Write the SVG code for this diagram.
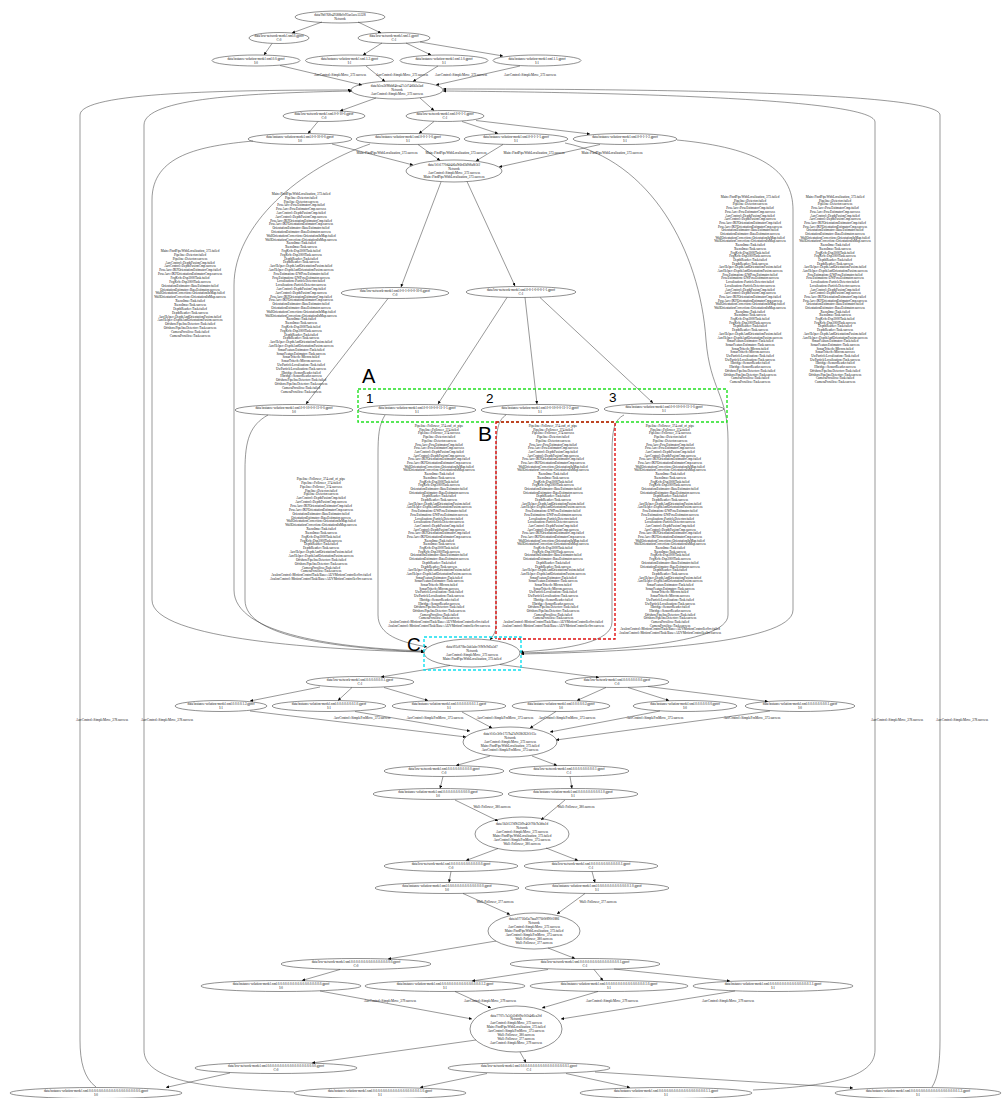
<svg xmlns="http://www.w3.org/2000/svg" width="1002" height="1098" viewBox="0 0 1002 1098">
<defs>
<marker id="ah" viewBox="0 0 10 10" refX="10" refY="5" markerWidth="3.6" markerHeight="3" markerUnits="userSpaceOnUse" orient="auto"><path d="M0,0 L10,5 L0,10 z" fill="#000"/></marker>
<style>
text{font-family:"Liberation Serif","Times New Roman",serif;font-size:3.3px;text-anchor:middle;fill:#111}
.nd ellipse{fill:none;stroke:#222;stroke-width:0.5}
#edges path{fill:none;stroke:#333;stroke-width:0.5;marker-end:url(#ah)}
.big{font-family:"Liberation Sans",Arial,sans-serif;text-anchor:start;fill:#000;font-size:20px}
.num{font-family:"Liberation Sans",Arial,sans-serif;text-anchor:start;fill:#000;font-size:13.5px}
.box{fill:none;stroke-width:1.4;stroke-dasharray:3 2}
</style>
</defs>
<rect width="1002" height="1098" fill="#fff"/>

<!-- connectors -->
<g id="edges">
<path d="M322,22 L292,33"/>
<path d="M358,22 L381,33"/>
<path d="M272,43.5 L264,55"/>
<path d="M382,43 L363,55"/>
<path d="M406,43 L431,55"/>
<path d="M420,42 L503,56"/>
<path d="M280,65.5 L362,85"/>
<path d="M366,66 L385,81.5"/>
<path d="M438,66 L413,81.5"/>
<path d="M520,66 L436,85"/>
<path d="M376,98 L340,111"/>
<path d="M420,98 L434,110.5"/>
<path d="M318,121.5 L308,133.5"/>
<path d="M434,121.5 L419,133.5"/>
<path d="M462,121.5 L498,133.5"/>
<path d="M476,120.5 L590,134"/>
<path d="M332,144 L413,165"/>
<path d="M418,144.5 L440,160.5"/>
<path d="M503,144.5 L476,161"/>
<path d="M600,144.5 L499,167"/>
<path d="M441,182 L401,287"/>
<path d="M467,181.5 L515,286"/>
<path d="M388,298.5 L306,404"/>
<path d="M507,297.5 L438,404"/>
<path d="M525,297.5 L537,404"/>
<path d="M540,297.5 L653,403"/>
<path d="M253,141 C200,146 152,155 152,200 L152,600 C152,640 330,650 424,652"/>
<path d="M370,144 C300,168 234,225 234,285 L234,590 C234,635 340,648 424,651"/>
<path d="M565,143 C650,160 700,250 706,340 C710,390 728,395 728,440 L728,615 C728,645 600,651 521,653"/>
<path d="M677,140 C760,148 793,170 793,210 L793,610 C793,645 620,652 521,654"/>
<path d="M96,1087 C84,1078 80,1062 80,1040 L80,115 C80,92 230,90 351,90"/>
<path d="M294,1092 C200,1088 144,1080 144,1050 L144,125 C144,98 250,93 352,91"/>
<path d="M753,1090 C830,1086 875,1078 875,1050 L875,122 C875,96 560,92 443,91"/>
<path d="M932,1087 C938,1078 940,1062 940,1040 L940,115 C940,91 620,89 443,89"/>
<path d="M268,415 C250,425 245,440 245,470 L245,600 C245,638 340,648 424,652"/>
<path d="M385,415 C379,425 378,435 378,455 L378,615 C378,635 400,642 427,647"/>
<path d="M506,415 C498,420 496,430 496,455 L496,625 C496,632 493,636 490,640"/>
<path d="M624,415 C614,420 612,430 612,455 L612,622 C612,642 570,649 520,652"/>
<path d="M450,665.5 L381,677"/>
<path d="M500,664.5 L599,677.5"/>
<path d="M320,687 L250,701"/>
<path d="M352,687.5 L338,700.5"/>
<path d="M384,687.5 L428,700.5"/>
<path d="M606,687.5 L577,700.5"/>
<path d="M628,687.5 L669,700.5"/>
<path d="M648,686.5 L768,701.5"/>
<path d="M250,711 L466,737"/>
<path d="M355,711.5 L470,731"/>
<path d="M462,712 L492,728"/>
<path d="M556,711.5 L530,728"/>
<path d="M660,711 L550,732"/>
<path d="M770,711 L556,740"/>
<path d="M490,756 L456,765.5"/>
<path d="M532,756 L557,765.5"/>
<path d="M443,776.5 L440,788.5"/>
<path d="M570,776.5 L572,788.5"/>
<path d="M455,800 L498,821"/>
<path d="M565,800 L541,820"/>
<path d="M498,848.5 L466,860.5"/>
<path d="M546,848 L578,860.5"/>
<path d="M451,871.5 L449,882.5"/>
<path d="M592,871.5 L595,882.5"/>
<path d="M463,893.5 L510,914.5"/>
<path d="M585,893.5 L557,914"/>
<path d="M496,941 L388,959"/>
<path d="M548,948 L575,958.5"/>
<path d="M340,969.5 L302,980.5"/>
<path d="M548,969.5 L472,981"/>
<path d="M594,969.5 L603,980.5"/>
<path d="M614,969 L730,981"/>
<path d="M320,991 L472,1019"/>
<path d="M455,991.5 L491,1008"/>
<path d="M598,991.5 L542,1008"/>
<path d="M735,991 L561,1019"/>
<path d="M476,1040 L312,1063"/>
<path d="M520,1052 L526,1062.5"/>
<path d="M230,1073 L166,1087.5"/>
<path d="M487,1073.5 L420,1087.5"/>
<path d="M566,1073.5 L630,1087.5"/>
<path d="M595,1072 L853,1088"/>
</g>

<!-- short edge labels -->
<g id="edge-labels">
<text x="340" y="76">AuvControl::SimpleMove_372.success</text>
<text x="402" y="76">AuvControl::SimpleMove_372.success</text>
<text x="461" y="76">AuvControl::SimpleMove_372.success</text>
<text x="530" y="76">AuvControl::SimpleMove_372.success</text>
<text x="387" y="154">Main::FindPipeWithLocalization_373.success</text>
<text x="456" y="154">Main::FindPipeWithLocalization_373.success</text>
<text x="534" y="154">Main::FindPipeWithLocalization_373.success</text>
<text x="612" y="154">Main::FindPipeWithLocalization_373.success</text>
<text x="362" y="719">AuvControl::SimplePosMove_373.success</text>
<text x="435" y="719">AuvControl::SimplePosMove_373.success</text>
<text x="505" y="719">AuvControl::SimplePosMove_373.success</text>
<text x="567" y="719">AuvControl::SimplePosMove_373.success</text>
<text x="655" y="719">AuvControl::SimplePosMove_373.success</text>
<text x="752" y="719">AuvControl::SimplePosMove_373.success</text>
<text x="492" y="808">Wall::Follower_380.success</text>
<text x="576" y="808">Wall::Follower_380.success</text>
<text x="495" y="903">Wall::Follower_377.success</text>
<text x="598" y="903">Wall::Follower_377.success</text>
<text x="390" y="1002">AuvControl::SimpleMove_379.success</text>
<text x="490" y="1002">AuvControl::SimpleMove_379.success</text>
<text x="612" y="1002">AuvControl::SimpleMove_379.success</text>
<text x="728" y="1002">AuvControl::SimpleMove_379.success</text>
<text x="102" y="721">AuvControl::SimpleMove_378.success</text>
<text x="167" y="721">AuvControl::SimpleMove_378.success</text>
<text x="897" y="721">AuvControl::SimpleMove_378.success</text>
<text x="962" y="721">AuvControl::SimpleMove_378.success</text>
</g>

<!-- failure label blocks of the FindPipeWithLocalization edges -->
<g id="block-f1"><text x="190" y="252"><tspan x="190">Main::FindPipeWithLocalization_373.failed</tspan><tspan x="190" dy="3.86">Pipeline::Detector.failed</tspan><tspan x="190" dy="3.86">Pipeline::Detector.success</tspan><tspan x="190" dy="3.86">AuvControl::DepthFusionCmp.failed</tspan><tspan x="190" dy="3.86">AuvControl::DepthFusionCmp.success</tspan><tspan x="190" dy="3.86">PoseAuv::IKFOrientationEstimatorCmp.failed</tspan><tspan x="190" dy="3.86">PoseAuv::IKFOrientationEstimatorCmp.success</tspan><tspan x="190" dy="3.86">FogKvh::Dsp3000Task.failed</tspan><tspan x="190" dy="3.86">FogKvh::Dsp3000Task.success</tspan><tspan x="190" dy="3.86">OrientationEstimator::BaseEstimator.failed</tspan><tspan x="190" dy="3.86">OrientationEstimator::BaseEstimator.success</tspan><tspan x="190" dy="3.86">WallOrientationCorrection::OrientationInMap.failed</tspan><tspan x="190" dy="3.86">WallOrientationCorrection::OrientationInMap.success</tspan><tspan x="190" dy="3.86">XsensImu::Task.failed</tspan><tspan x="190" dy="3.86">XsensImu::Task.success</tspan><tspan x="190" dy="3.86">DepthReader::Task.failed</tspan><tspan x="190" dy="3.86">DepthReader::Task.success</tspan><tspan x="190" dy="3.86">AuvHelper::DepthAndOrientationFusion.failed</tspan><tspan x="190" dy="3.86">AuvHelper::DepthAndOrientationFusion.success</tspan><tspan x="190" dy="3.86">OffshorePipelineDetector::Task.failed</tspan><tspan x="190" dy="3.86">OffshorePipelineDetector::Task.success</tspan><tspan x="190" dy="3.86">CameraProsilica::Task.failed</tspan><tspan x="190" dy="3.86">CameraProsilica::Task.success</tspan></text></g>

<g id="block-f2"><text x="301" y="195"><tspan x="301">Main::FindPipeWithLocalization_373.failed</tspan><tspan x="301" dy="3.8">Pipeline::Detector.failed</tspan><tspan x="301" dy="3.8">Pipeline::Detector.success</tspan><tspan x="301" dy="3.8">PoseAuv::PoseEstimatorCmp.failed</tspan><tspan x="301" dy="3.8">PoseAuv::PoseEstimatorCmp.success</tspan><tspan x="301" dy="3.8">AuvControl::DepthFusionCmp.failed</tspan><tspan x="301" dy="3.8">AuvControl::DepthFusionCmp.success</tspan><tspan x="301" dy="3.8">PoseAuv::IKFOrientationEstimatorCmp.failed</tspan><tspan x="301" dy="3.8">PoseAuv::IKFOrientationEstimatorCmp.success</tspan><tspan x="301" dy="3.8">OrientationEstimator::BaseEstimator.failed</tspan><tspan x="301" dy="3.8">OrientationEstimator::BaseEstimator.success</tspan><tspan x="301" dy="3.8">WallOrientationCorrection::OrientationInMap.failed</tspan><tspan x="301" dy="3.8">WallOrientationCorrection::OrientationInMap.success</tspan><tspan x="301" dy="3.8">XsensImu::Task.failed</tspan><tspan x="301" dy="3.8">XsensImu::Task.success</tspan><tspan x="301" dy="3.8">FogKvh::Dsp3000Task.failed</tspan><tspan x="301" dy="3.8">FogKvh::Dsp3000Task.success</tspan><tspan x="301" dy="3.8">DepthReader::Task.failed</tspan><tspan x="301" dy="3.8">DepthReader::Task.success</tspan><tspan x="301" dy="3.8">AuvHelper::DepthAndOrientationFusion.failed</tspan><tspan x="301" dy="3.8">AuvHelper::DepthAndOrientationFusion.success</tspan><tspan x="301" dy="3.8">PoseEstimation::UWPoseEstimator.failed</tspan><tspan x="301" dy="3.8">PoseEstimation::UWPoseEstimator.success</tspan><tspan x="301" dy="3.8">Localization::ParticleDetector.failed</tspan><tspan x="301" dy="3.8">Localization::ParticleDetector.success</tspan><tspan x="301" dy="3.8">AuvControl::DepthFusionCmp.failed</tspan><tspan x="301" dy="3.8">AuvControl::DepthFusionCmp.success</tspan><tspan x="301" dy="3.8">PoseAuv::IKFOrientationEstimatorCmp.failed</tspan><tspan x="301" dy="3.8">PoseAuv::IKFOrientationEstimatorCmp.success</tspan><tspan x="301" dy="3.8">OrientationEstimator::BaseEstimator.failed</tspan><tspan x="301" dy="3.8">OrientationEstimator::BaseEstimator.success</tspan><tspan x="301" dy="3.8">WallOrientationCorrection::OrientationInMap.failed</tspan><tspan x="301" dy="3.8">WallOrientationCorrection::OrientationInMap.success</tspan><tspan x="301" dy="3.8">XsensImu::Task.failed</tspan><tspan x="301" dy="3.8">XsensImu::Task.success</tspan><tspan x="301" dy="3.8">FogKvh::Dsp3000Task.failed</tspan><tspan x="301" dy="3.8">FogKvh::Dsp3000Task.success</tspan><tspan x="301" dy="3.8">DepthReader::Task.failed</tspan><tspan x="301" dy="3.8">DepthReader::Task.success</tspan><tspan x="301" dy="3.8">AuvHelper::DepthAndOrientationFusion.failed</tspan><tspan x="301" dy="3.8">AuvHelper::DepthAndOrientationFusion.success</tspan><tspan x="301" dy="3.8">SonarFeatureEstimator::Task.failed</tspan><tspan x="301" dy="3.8">SonarFeatureEstimator::Task.success</tspan><tspan x="301" dy="3.8">SonarTritech::Micron.failed</tspan><tspan x="301" dy="3.8">SonarTritech::Micron.success</tspan><tspan x="301" dy="3.8">UwParticleLocalization::Task.failed</tspan><tspan x="301" dy="3.8">UwParticleLocalization::Task.success</tspan><tspan x="301" dy="3.8">Hbridge::SensorReader.failed</tspan><tspan x="301" dy="3.8">Hbridge::SensorReader.success</tspan><tspan x="301" dy="3.8">OffshorePipelineDetector::Task.failed</tspan><tspan x="301" dy="3.8">OffshorePipelineDetector::Task.success</tspan><tspan x="301" dy="3.8">CameraProsilica::Task.failed</tspan><tspan x="301" dy="3.8">CameraProsilica::Task.success</tspan></text></g>

<g id="block-f3"><text x="750" y="198"><tspan x="750">Main::FindPipeWithLocalization_373.failed</tspan><tspan x="750" dy="3.7">Pipeline::Detector.failed</tspan><tspan x="750" dy="3.7">Pipeline::Detector.success</tspan><tspan x="750" dy="3.7">PoseAuv::PoseEstimatorCmp.failed</tspan><tspan x="750" dy="3.7">PoseAuv::PoseEstimatorCmp.success</tspan><tspan x="750" dy="3.7">AuvControl::DepthFusionCmp.failed</tspan><tspan x="750" dy="3.7">AuvControl::DepthFusionCmp.success</tspan><tspan x="750" dy="3.7">PoseAuv::IKFOrientationEstimatorCmp.failed</tspan><tspan x="750" dy="3.7">PoseAuv::IKFOrientationEstimatorCmp.success</tspan><tspan x="750" dy="3.7">OrientationEstimator::BaseEstimator.failed</tspan><tspan x="750" dy="3.7">OrientationEstimator::BaseEstimator.success</tspan><tspan x="750" dy="3.7">WallOrientationCorrection::OrientationInMap.failed</tspan><tspan x="750" dy="3.7">WallOrientationCorrection::OrientationInMap.success</tspan><tspan x="750" dy="3.7">XsensImu::Task.failed</tspan><tspan x="750" dy="3.7">XsensImu::Task.success</tspan><tspan x="750" dy="3.7">FogKvh::Dsp3000Task.failed</tspan><tspan x="750" dy="3.7">FogKvh::Dsp3000Task.success</tspan><tspan x="750" dy="3.7">DepthReader::Task.failed</tspan><tspan x="750" dy="3.7">DepthReader::Task.success</tspan><tspan x="750" dy="3.7">AuvHelper::DepthAndOrientationFusion.failed</tspan><tspan x="750" dy="3.7">AuvHelper::DepthAndOrientationFusion.success</tspan><tspan x="750" dy="3.7">PoseEstimation::UWPoseEstimator.failed</tspan><tspan x="750" dy="3.7">PoseEstimation::UWPoseEstimator.success</tspan><tspan x="750" dy="3.7">Localization::ParticleDetector.failed</tspan><tspan x="750" dy="3.7">Localization::ParticleDetector.success</tspan><tspan x="750" dy="3.7">AuvControl::DepthFusionCmp.failed</tspan><tspan x="750" dy="3.7">AuvControl::DepthFusionCmp.success</tspan><tspan x="750" dy="3.7">PoseAuv::IKFOrientationEstimatorCmp.failed</tspan><tspan x="750" dy="3.7">PoseAuv::IKFOrientationEstimatorCmp.success</tspan><tspan x="750" dy="3.7">WallOrientationCorrection::OrientationInMap.failed</tspan><tspan x="750" dy="3.7">WallOrientationCorrection::OrientationInMap.success</tspan><tspan x="750" dy="3.7">XsensImu::Task.failed</tspan><tspan x="750" dy="3.7">XsensImu::Task.success</tspan><tspan x="750" dy="3.7">FogKvh::Dsp3000Task.failed</tspan><tspan x="750" dy="3.7">FogKvh::Dsp3000Task.success</tspan><tspan x="750" dy="3.7">DepthReader::Task.failed</tspan><tspan x="750" dy="3.7">DepthReader::Task.success</tspan><tspan x="750" dy="3.7">AuvHelper::DepthAndOrientationFusion.failed</tspan><tspan x="750" dy="3.7">AuvHelper::DepthAndOrientationFusion.success</tspan><tspan x="750" dy="3.7">SonarFeatureEstimator::Task.failed</tspan><tspan x="750" dy="3.7">SonarFeatureEstimator::Task.success</tspan><tspan x="750" dy="3.7">SonarTritech::Micron.failed</tspan><tspan x="750" dy="3.7">SonarTritech::Micron.success</tspan><tspan x="750" dy="3.7">UwParticleLocalization::Task.failed</tspan><tspan x="750" dy="3.7">UwParticleLocalization::Task.success</tspan><tspan x="750" dy="3.7">Hbridge::SensorReader.failed</tspan><tspan x="750" dy="3.7">Hbridge::SensorReader.success</tspan><tspan x="750" dy="3.7">OffshorePipelineDetector::Task.failed</tspan><tspan x="750" dy="3.7">OffshorePipelineDetector::Task.success</tspan><tspan x="750" dy="3.7">CameraProsilica::Task.failed</tspan><tspan x="750" dy="3.7">CameraProsilica::Task.success</tspan></text></g>

<g id="block-f4"><text x="835" y="198"><tspan x="835">Main::FindPipeWithLocalization_373.failed</tspan><tspan x="835" dy="3.7">Pipeline::Detector.failed</tspan><tspan x="835" dy="3.7">Pipeline::Detector.success</tspan><tspan x="835" dy="3.7">PoseAuv::PoseEstimatorCmp.failed</tspan><tspan x="835" dy="3.7">PoseAuv::PoseEstimatorCmp.success</tspan><tspan x="835" dy="3.7">AuvControl::DepthFusionCmp.failed</tspan><tspan x="835" dy="3.7">AuvControl::DepthFusionCmp.success</tspan><tspan x="835" dy="3.7">PoseAuv::IKFOrientationEstimatorCmp.failed</tspan><tspan x="835" dy="3.7">PoseAuv::IKFOrientationEstimatorCmp.success</tspan><tspan x="835" dy="3.7">OrientationEstimator::BaseEstimator.failed</tspan><tspan x="835" dy="3.7">OrientationEstimator::BaseEstimator.success</tspan><tspan x="835" dy="3.7">WallOrientationCorrection::OrientationInMap.failed</tspan><tspan x="835" dy="3.7">WallOrientationCorrection::OrientationInMap.success</tspan><tspan x="835" dy="3.7">XsensImu::Task.failed</tspan><tspan x="835" dy="3.7">XsensImu::Task.success</tspan><tspan x="835" dy="3.7">FogKvh::Dsp3000Task.failed</tspan><tspan x="835" dy="3.7">FogKvh::Dsp3000Task.success</tspan><tspan x="835" dy="3.7">DepthReader::Task.failed</tspan><tspan x="835" dy="3.7">DepthReader::Task.success</tspan><tspan x="835" dy="3.7">AuvHelper::DepthAndOrientationFusion.failed</tspan><tspan x="835" dy="3.7">AuvHelper::DepthAndOrientationFusion.success</tspan><tspan x="835" dy="3.7">PoseEstimation::UWPoseEstimator.failed</tspan><tspan x="835" dy="3.7">PoseEstimation::UWPoseEstimator.success</tspan><tspan x="835" dy="3.7">Localization::ParticleDetector.failed</tspan><tspan x="835" dy="3.7">Localization::ParticleDetector.success</tspan><tspan x="835" dy="3.7">AuvControl::DepthFusionCmp.failed</tspan><tspan x="835" dy="3.7">AuvControl::DepthFusionCmp.success</tspan><tspan x="835" dy="3.7">PoseAuv::IKFOrientationEstimatorCmp.failed</tspan><tspan x="835" dy="3.7">PoseAuv::IKFOrientationEstimatorCmp.success</tspan><tspan x="835" dy="3.7">OrientationEstimator::BaseEstimator.failed</tspan><tspan x="835" dy="3.7">OrientationEstimator::BaseEstimator.success</tspan><tspan x="835" dy="3.7">XsensImu::Task.failed</tspan><tspan x="835" dy="3.7">XsensImu::Task.success</tspan><tspan x="835" dy="3.7">FogKvh::Dsp3000Task.failed</tspan><tspan x="835" dy="3.7">FogKvh::Dsp3000Task.success</tspan><tspan x="835" dy="3.7">DepthReader::Task.failed</tspan><tspan x="835" dy="3.7">DepthReader::Task.success</tspan><tspan x="835" dy="3.7">AuvHelper::DepthAndOrientationFusion.failed</tspan><tspan x="835" dy="3.7">AuvHelper::DepthAndOrientationFusion.success</tspan><tspan x="835" dy="3.7">SonarFeatureEstimator::Task.failed</tspan><tspan x="835" dy="3.7">SonarFeatureEstimator::Task.success</tspan><tspan x="835" dy="3.7">SonarTritech::Micron.failed</tspan><tspan x="835" dy="3.7">SonarTritech::Micron.success</tspan><tspan x="835" dy="3.7">UwParticleLocalization::Task.failed</tspan><tspan x="835" dy="3.7">UwParticleLocalization::Task.success</tspan><tspan x="835" dy="3.7">Hbridge::SensorReader.failed</tspan><tspan x="835" dy="3.7">Hbridge::SensorReader.success</tspan><tspan x="835" dy="3.7">OffshorePipelineDetector::Task.failed</tspan><tspan x="835" dy="3.7">OffshorePipelineDetector::Task.success</tspan><tspan x="835" dy="3.7">CameraProsilica::Task.failed</tspan><tspan x="835" dy="3.7">CameraProsilica::Task.success</tspan></text></g>

<!-- label blocks of the Pipeline::Follower edges -->
<g id="block-g0"><text x="321" y="480"><tspan x="321">Pipeline::Follower_374.end_of_pipe</tspan><tspan x="321" dy="3.85">Pipeline::Follower_374.failed</tspan><tspan x="321" dy="3.85">Pipeline::Follower_374.success</tspan><tspan x="321" dy="3.85">Pipeline::Detector.failed</tspan><tspan x="321" dy="3.85">Pipeline::Detector.success</tspan><tspan x="321" dy="3.85">AuvControl::DepthFusionCmp.failed</tspan><tspan x="321" dy="3.85">AuvControl::DepthFusionCmp.success</tspan><tspan x="321" dy="3.85">PoseAuv::IKFOrientationEstimatorCmp.failed</tspan><tspan x="321" dy="3.85">PoseAuv::IKFOrientationEstimatorCmp.success</tspan><tspan x="321" dy="3.85">OrientationEstimator::BaseEstimator.failed</tspan><tspan x="321" dy="3.85">OrientationEstimator::BaseEstimator.success</tspan><tspan x="321" dy="3.85">WallOrientationCorrection::OrientationInMap.failed</tspan><tspan x="321" dy="3.85">WallOrientationCorrection::OrientationInMap.success</tspan><tspan x="321" dy="3.85">XsensImu::Task.failed</tspan><tspan x="321" dy="3.85">XsensImu::Task.success</tspan><tspan x="321" dy="3.85">FogKvh::Dsp3000Task.failed</tspan><tspan x="321" dy="3.85">FogKvh::Dsp3000Task.success</tspan><tspan x="321" dy="3.85">DepthReader::Task.failed</tspan><tspan x="321" dy="3.85">DepthReader::Task.success</tspan><tspan x="321" dy="3.85">AuvHelper::DepthAndOrientationFusion.failed</tspan><tspan x="321" dy="3.85">AuvHelper::DepthAndOrientationFusion.success</tspan><tspan x="321" dy="3.85">OffshorePipelineDetector::Task.failed</tspan><tspan x="321" dy="3.85">OffshorePipelineDetector::Task.success</tspan><tspan x="321" dy="3.85">CameraProsilica::Task.failed</tspan><tspan x="321" dy="3.85">CameraProsilica::Task.success</tspan><tspan x="321" dy="3.85">AvalonControl::MotionControlTask/Base::AUVMotionControllerSrv.failed</tspan><tspan x="321" dy="3.85">AvalonControl::MotionControlTask/Base::AUVMotionControllerSrv.success</tspan></text></g>

<g id="block-g1"><text x="439" y="427"><tspan x="439">Pipeline::Follower_374.end_of_pipe</tspan><tspan x="439" dy="3.7">Pipeline::Follower_374.failed</tspan><tspan x="439" dy="3.7">Pipeline::Follower_374.success</tspan><tspan x="439" dy="3.7">Pipeline::Detector.failed</tspan><tspan x="439" dy="3.7">Pipeline::Detector.success</tspan><tspan x="439" dy="3.7">PoseAuv::PoseEstimatorCmp.failed</tspan><tspan x="439" dy="3.7">PoseAuv::PoseEstimatorCmp.success</tspan><tspan x="439" dy="3.7">AuvControl::DepthFusionCmp.failed</tspan><tspan x="439" dy="3.7">AuvControl::DepthFusionCmp.success</tspan><tspan x="439" dy="3.7">PoseAuv::IKFOrientationEstimatorCmp.failed</tspan><tspan x="439" dy="3.7">PoseAuv::IKFOrientationEstimatorCmp.success</tspan><tspan x="439" dy="3.7">WallOrientationCorrection::OrientationInMap.failed</tspan><tspan x="439" dy="3.7">WallOrientationCorrection::OrientationInMap.success</tspan><tspan x="439" dy="3.7">XsensImu::Task.failed</tspan><tspan x="439" dy="3.7">XsensImu::Task.success</tspan><tspan x="439" dy="3.7">FogKvh::Dsp3000Task.failed</tspan><tspan x="439" dy="3.7">FogKvh::Dsp3000Task.success</tspan><tspan x="439" dy="3.7">OrientationEstimator::BaseEstimator.failed</tspan><tspan x="439" dy="3.7">OrientationEstimator::BaseEstimator.success</tspan><tspan x="439" dy="3.7">DepthReader::Task.failed</tspan><tspan x="439" dy="3.7">DepthReader::Task.success</tspan><tspan x="439" dy="3.7">AuvHelper::DepthAndOrientationFusion.failed</tspan><tspan x="439" dy="3.7">AuvHelper::DepthAndOrientationFusion.success</tspan><tspan x="439" dy="3.7">PoseEstimation::UWPoseEstimator.failed</tspan><tspan x="439" dy="3.7">PoseEstimation::UWPoseEstimator.success</tspan><tspan x="439" dy="3.7">Localization::ParticleDetector.failed</tspan><tspan x="439" dy="3.7">Localization::ParticleDetector.success</tspan><tspan x="439" dy="3.7">AuvControl::DepthFusionCmp.failed</tspan><tspan x="439" dy="3.7">AuvControl::DepthFusionCmp.success</tspan><tspan x="439" dy="3.7">PoseAuv::IKFOrientationEstimatorCmp.failed</tspan><tspan x="439" dy="3.7">PoseAuv::IKFOrientationEstimatorCmp.success</tspan><tspan x="439" dy="3.7">XsensImu::Task.failed</tspan><tspan x="439" dy="3.7">XsensImu::Task.success</tspan><tspan x="439" dy="3.7">FogKvh::Dsp3000Task.failed</tspan><tspan x="439" dy="3.7">FogKvh::Dsp3000Task.success</tspan><tspan x="439" dy="3.7">OrientationEstimator::BaseEstimator.failed</tspan><tspan x="439" dy="3.7">OrientationEstimator::BaseEstimator.success</tspan><tspan x="439" dy="3.7">DepthReader::Task.failed</tspan><tspan x="439" dy="3.7">DepthReader::Task.success</tspan><tspan x="439" dy="3.7">AuvHelper::DepthAndOrientationFusion.failed</tspan><tspan x="439" dy="3.7">AuvHelper::DepthAndOrientationFusion.success</tspan><tspan x="439" dy="3.7">SonarFeatureEstimator::Task.failed</tspan><tspan x="439" dy="3.7">SonarFeatureEstimator::Task.success</tspan><tspan x="439" dy="3.7">SonarTritech::Micron.failed</tspan><tspan x="439" dy="3.7">SonarTritech::Micron.success</tspan><tspan x="439" dy="3.7">UwParticleLocalization::Task.failed</tspan><tspan x="439" dy="3.7">UwParticleLocalization::Task.success</tspan><tspan x="439" dy="3.7">Hbridge::SensorReader.failed</tspan><tspan x="439" dy="3.7">Hbridge::SensorReader.success</tspan><tspan x="439" dy="3.7">OffshorePipelineDetector::Task.failed</tspan><tspan x="439" dy="3.7">OffshorePipelineDetector::Task.success</tspan><tspan x="439" dy="3.7">CameraProsilica::Task.failed</tspan><tspan x="439" dy="3.7">CameraProsilica::Task.success</tspan><tspan x="439" dy="3.7">AvalonControl::MotionControlTask/Base::AUVMotionControllerSrv.failed</tspan><tspan x="439" dy="3.7">AvalonControl::MotionControlTask/Base::AUVMotionControllerSrv.success</tspan></text></g>

<g id="block-g2"><text x="553" y="427"><tspan x="553">Pipeline::Follower_374.end_of_pipe</tspan><tspan x="553" dy="3.7">Pipeline::Follower_374.failed</tspan><tspan x="553" dy="3.7">Pipeline::Follower_374.success</tspan><tspan x="553" dy="3.7">Pipeline::Detector.failed</tspan><tspan x="553" dy="3.7">Pipeline::Detector.success</tspan><tspan x="553" dy="3.7">PoseAuv::PoseEstimatorCmp.failed</tspan><tspan x="553" dy="3.7">PoseAuv::PoseEstimatorCmp.success</tspan><tspan x="553" dy="3.7">AuvControl::DepthFusionCmp.failed</tspan><tspan x="553" dy="3.7">AuvControl::DepthFusionCmp.success</tspan><tspan x="553" dy="3.7">PoseAuv::IKFOrientationEstimatorCmp.failed</tspan><tspan x="553" dy="3.7">PoseAuv::IKFOrientationEstimatorCmp.success</tspan><tspan x="553" dy="3.7">WallOrientationCorrection::OrientationInMap.failed</tspan><tspan x="553" dy="3.7">WallOrientationCorrection::OrientationInMap.success</tspan><tspan x="553" dy="3.7">XsensImu::Task.failed</tspan><tspan x="553" dy="3.7">XsensImu::Task.success</tspan><tspan x="553" dy="3.7">FogKvh::Dsp3000Task.failed</tspan><tspan x="553" dy="3.7">FogKvh::Dsp3000Task.success</tspan><tspan x="553" dy="3.7">OrientationEstimator::BaseEstimator.failed</tspan><tspan x="553" dy="3.7">OrientationEstimator::BaseEstimator.success</tspan><tspan x="553" dy="3.7">DepthReader::Task.failed</tspan><tspan x="553" dy="3.7">DepthReader::Task.success</tspan><tspan x="553" dy="3.7">AuvHelper::DepthAndOrientationFusion.failed</tspan><tspan x="553" dy="3.7">AuvHelper::DepthAndOrientationFusion.success</tspan><tspan x="553" dy="3.7">PoseEstimation::UWPoseEstimator.failed</tspan><tspan x="553" dy="3.7">PoseEstimation::UWPoseEstimator.success</tspan><tspan x="553" dy="3.7">Localization::ParticleDetector.failed</tspan><tspan x="553" dy="3.7">Localization::ParticleDetector.success</tspan><tspan x="553" dy="3.7">AuvControl::DepthFusionCmp.failed</tspan><tspan x="553" dy="3.7">AuvControl::DepthFusionCmp.success</tspan><tspan x="553" dy="3.7">PoseAuv::IKFOrientationEstimatorCmp.failed</tspan><tspan x="553" dy="3.7">PoseAuv::IKFOrientationEstimatorCmp.success</tspan><tspan x="553" dy="3.7">WallOrientationCorrection::OrientationInMap.failed</tspan><tspan x="553" dy="3.7">WallOrientationCorrection::OrientationInMap.success</tspan><tspan x="553" dy="3.7">FogKvh::Dsp3000Task.failed</tspan><tspan x="553" dy="3.7">FogKvh::Dsp3000Task.success</tspan><tspan x="553" dy="3.7">OrientationEstimator::BaseEstimator.failed</tspan><tspan x="553" dy="3.7">OrientationEstimator::BaseEstimator.success</tspan><tspan x="553" dy="3.7">DepthReader::Task.failed</tspan><tspan x="553" dy="3.7">DepthReader::Task.success</tspan><tspan x="553" dy="3.7">AuvHelper::DepthAndOrientationFusion.failed</tspan><tspan x="553" dy="3.7">AuvHelper::DepthAndOrientationFusion.success</tspan><tspan x="553" dy="3.7">SonarFeatureEstimator::Task.failed</tspan><tspan x="553" dy="3.7">SonarFeatureEstimator::Task.success</tspan><tspan x="553" dy="3.7">SonarTritech::Micron.failed</tspan><tspan x="553" dy="3.7">SonarTritech::Micron.success</tspan><tspan x="553" dy="3.7">UwParticleLocalization::Task.failed</tspan><tspan x="553" dy="3.7">UwParticleLocalization::Task.success</tspan><tspan x="553" dy="3.7">Hbridge::SensorReader.failed</tspan><tspan x="553" dy="3.7">Hbridge::SensorReader.success</tspan><tspan x="553" dy="3.7">OffshorePipelineDetector::Task.failed</tspan><tspan x="553" dy="3.7">OffshorePipelineDetector::Task.success</tspan><tspan x="553" dy="3.7">CameraProsilica::Task.failed</tspan><tspan x="553" dy="3.7">CameraProsilica::Task.success</tspan><tspan x="553" dy="3.7">AvalonControl::MotionControlTask/Base::AUVMotionControllerSrv.failed</tspan><tspan x="553" dy="3.7">AvalonControl::MotionControlTask/Base::AUVMotionControllerSrv.success</tspan></text></g>

<g id="block-g3"><text x="670" y="427"><tspan x="670">Pipeline::Follower_374.end_of_pipe</tspan><tspan x="670" dy="3.7">Pipeline::Follower_374.failed</tspan><tspan x="670" dy="3.7">Pipeline::Follower_374.success</tspan><tspan x="670" dy="3.7">Pipeline::Detector.failed</tspan><tspan x="670" dy="3.7">Pipeline::Detector.success</tspan><tspan x="670" dy="3.7">PoseAuv::PoseEstimatorCmp.failed</tspan><tspan x="670" dy="3.7">PoseAuv::PoseEstimatorCmp.success</tspan><tspan x="670" dy="3.7">AuvControl::DepthFusionCmp.failed</tspan><tspan x="670" dy="3.7">AuvControl::DepthFusionCmp.success</tspan><tspan x="670" dy="3.7">PoseAuv::IKFOrientationEstimatorCmp.failed</tspan><tspan x="670" dy="3.7">PoseAuv::IKFOrientationEstimatorCmp.success</tspan><tspan x="670" dy="3.7">WallOrientationCorrection::OrientationInMap.failed</tspan><tspan x="670" dy="3.7">WallOrientationCorrection::OrientationInMap.success</tspan><tspan x="670" dy="3.7">XsensImu::Task.failed</tspan><tspan x="670" dy="3.7">XsensImu::Task.success</tspan><tspan x="670" dy="3.7">FogKvh::Dsp3000Task.failed</tspan><tspan x="670" dy="3.7">FogKvh::Dsp3000Task.success</tspan><tspan x="670" dy="3.7">OrientationEstimator::BaseEstimator.failed</tspan><tspan x="670" dy="3.7">OrientationEstimator::BaseEstimator.success</tspan><tspan x="670" dy="3.7">DepthReader::Task.failed</tspan><tspan x="670" dy="3.7">DepthReader::Task.success</tspan><tspan x="670" dy="3.7">AuvHelper::DepthAndOrientationFusion.failed</tspan><tspan x="670" dy="3.7">AuvHelper::DepthAndOrientationFusion.success</tspan><tspan x="670" dy="3.7">PoseEstimation::UWPoseEstimator.failed</tspan><tspan x="670" dy="3.7">PoseEstimation::UWPoseEstimator.success</tspan><tspan x="670" dy="3.7">Localization::ParticleDetector.failed</tspan><tspan x="670" dy="3.7">Localization::ParticleDetector.success</tspan><tspan x="670" dy="3.7">AuvControl::DepthFusionCmp.failed</tspan><tspan x="670" dy="3.7">AuvControl::DepthFusionCmp.success</tspan><tspan x="670" dy="3.7">PoseAuv::IKFOrientationEstimatorCmp.failed</tspan><tspan x="670" dy="3.7">PoseAuv::IKFOrientationEstimatorCmp.success</tspan><tspan x="670" dy="3.7">WallOrientationCorrection::OrientationInMap.failed</tspan><tspan x="670" dy="3.7">WallOrientationCorrection::OrientationInMap.success</tspan><tspan x="670" dy="3.7">XsensImu::Task.failed</tspan><tspan x="670" dy="3.7">XsensImu::Task.success</tspan><tspan x="670" dy="3.7">FogKvh::Dsp3000Task.failed</tspan><tspan x="670" dy="3.7">FogKvh::Dsp3000Task.success</tspan><tspan x="670" dy="3.7">OrientationEstimator::BaseEstimator.failed</tspan><tspan x="670" dy="3.7">OrientationEstimator::BaseEstimator.success</tspan><tspan x="670" dy="3.7">DepthReader::Task.failed</tspan><tspan x="670" dy="3.7">DepthReader::Task.success</tspan><tspan x="670" dy="3.7">AuvHelper::DepthAndOrientationFusion.failed</tspan><tspan x="670" dy="3.7">AuvHelper::DepthAndOrientationFusion.success</tspan><tspan x="670" dy="3.7">SonarFeatureEstimator::Task.failed</tspan><tspan x="670" dy="3.7">SonarFeatureEstimator::Task.success</tspan><tspan x="670" dy="3.7">SonarTritech::Micron.failed</tspan><tspan x="670" dy="3.7">SonarTritech::Micron.success</tspan><tspan x="670" dy="3.7">UwParticleLocalization::Task.failed</tspan><tspan x="670" dy="3.7">UwParticleLocalization::Task.success</tspan><tspan x="670" dy="3.7">Hbridge::SensorReader.failed</tspan><tspan x="670" dy="3.7">Hbridge::SensorReader.success</tspan><tspan x="670" dy="3.7">OffshorePipelineDetector::Task.failed</tspan><tspan x="670" dy="3.7">OffshorePipelineDetector::Task.success</tspan><tspan x="670" dy="3.7">CameraProsilica::Task.failed</tspan><tspan x="670" dy="3.7">CameraProsilica::Task.success</tspan><tspan x="670" dy="3.7">AvalonControl::MotionControlTask/Base::AUVMotionControllerSrv.failed</tspan><tspan x="670" dy="3.7">AvalonControl::MotionControlTask/Base::AUVMotionControllerSrv.success</tspan></text></g>

<!-- nodes -->
<g id="n-root" class="nd"><ellipse cx="340" cy="17" rx="45" ry="6"/><text x="340" y="16.2">data/9b0768c49588b0c93ac5ace55328</text><text x="340" y="20.1">Network</text></g>
<g id="c0-a" class="nd"><ellipse cx="279" cy="38" rx="30" ry="5.5"/><text x="279" y="37.2">data/low-network-model.xml.0.gprof</text><text x="279" y="41.1">C:0</text></g>
<g id="c1-a" class="nd"><ellipse cx="394" cy="38" rx="36" ry="5.5"/><text x="394" y="37.2">data/low-network-model.xml.1.gprof</text><text x="394" y="41.1">C:1</text></g>
<g id="i0-a" class="nd"><ellipse cx="256" cy="60.5" rx="44" ry="5.5"/><text x="256" y="59.7">data/instance-solution-model.xml.0.0.gprof</text><text x="256" y="63.6">I:0</text></g>
<g id="i1-a" class="nd"><ellipse cx="349.5" cy="60.5" rx="44" ry="5.5"/><text x="349.5" y="59.7">data/instance-solution-model.xml.1.2.gprof</text><text x="349.5" y="63.6">I:1</text></g>
<g id="i1-b" class="nd"><ellipse cx="444" cy="60.5" rx="44" ry="5.5"/><text x="444" y="59.7">data/instance-solution-model.xml.1.0.gprof</text><text x="444" y="63.6">I:1</text></g>
<g id="i1-c" class="nd"><ellipse cx="537" cy="60.5" rx="44" ry="5.5"/><text x="537" y="59.7">data/instance-solution-model.xml.1.1.gprof</text><text x="537" y="63.6">I:1</text></g>
<g id="n-2" class="nd"><ellipse cx="397" cy="90" rx="46" ry="9"/><text x="397" y="87.2">data/b5ca3f98bb84fca47e5f74f6b3a5ad</text><text x="397" y="91.1">Network</text><text x="397" y="95">AuvControl::SimpleMove_372.success</text></g>
<g id="c0-b" class="nd"><ellipse cx="324" cy="116" rx="41" ry="5.5"/><text x="324" y="115.2">data/low-network-model.xml.0-0-10-0.gprof</text><text x="324" y="119.1">C:0</text></g>
<g id="c1-b" class="nd"><ellipse cx="445" cy="116" rx="39" ry="5.5"/><text x="445" y="115.2">data/low-network-model.xml.0-0-1-1.gprof</text><text x="445" y="119.1">C:1</text></g>
<g id="i0-b" class="nd"><ellipse cx="300" cy="139" rx="52" ry="5.5"/><text x="300" y="138.2">data/instance-solution-model.xml.0-0-10-0-0.gprof</text><text x="300" y="142.1">I:0</text></g>
<g id="i1-d" class="nd"><ellipse cx="408" cy="139" rx="52" ry="5.5"/><text x="408" y="138.2">data/instance-solution-model.xml.0-0-1-1-0.gprof</text><text x="408" y="142.1">I:1</text></g>
<g id="i1-e" class="nd"><ellipse cx="516" cy="139" rx="52" ry="5.5"/><text x="516" y="138.2">data/instance-solution-model.xml.0-0-1-1-1.gprof</text><text x="516" y="142.1">I:1</text></g>
<g id="i1-f" class="nd"><ellipse cx="625" cy="139" rx="52" ry="5.5"/><text x="625" y="138.2">data/instance-solution-model.xml.0-0-1-1-2.gprof</text><text x="625" y="142.1">I:1</text></g>
<g id="n-3" class="nd"><ellipse cx="454" cy="171" rx="48" ry="11"/><text x="454" y="166.3">data/1f1f1770d4f4f6a9f6fd3b9f8a8f3f2</text><text x="454" y="170.2">Network</text><text x="454" y="174.1">AuvControl::SimpleMove_372.success</text><text x="454" y="178">Main::FindPipeWithLocalization_373.success</text></g>
<g id="c0-c" class="nd"><ellipse cx="395" cy="293" rx="54" ry="5.5"/><text x="395" y="292.2">data/low-network-model.xml.0-0-1-0-0-0-10-0.gprof</text><text x="395" y="296.1">C:0</text></g>
<g id="c1-c" class="nd"><ellipse cx="521" cy="292" rx="55" ry="5.5"/><text x="521" y="291.2">data/low-network-model.xml.0-0-1-0-0-0-1-1.gprof</text><text x="521" y="295.1">C:1</text></g>
<g id="i0-c" class="nd"><ellipse cx="294" cy="410" rx="59" ry="5.5"/><text x="294" y="409.2">data/instance-solution-model.xml.0-0-10-0-0-11-0-0.gprof</text><text x="294" y="413.1">I:0</text></g>
<g id="i1-g" class="nd"><ellipse cx="417" cy="410" rx="59" ry="5.5"/><text x="417" y="409.2">data/instance-solution-model.xml.0-0-10-0-0-11-1-1.gprof</text><text x="417" y="413.1">I:1</text></g>
<g id="i1-h" class="nd"><ellipse cx="540" cy="410" rx="59" ry="5.5"/><text x="540" y="409.2">data/instance-solution-model.xml.0-0-10-0-0-11-1-2.gprof</text><text x="540" y="413.1">I:1</text></g>
<g id="i1-i" class="nd"><ellipse cx="664" cy="409" rx="60" ry="5.5"/><text x="664" y="408.2">data/instance-solution-model.xml.0-0-10-0-0-11-1-0.gprof</text><text x="664" y="412.1">I:1</text></g>
<g id="n-c" class="nd"><ellipse cx="472" cy="653" rx="48" ry="14"/><text x="472" y="648.3">data/f93e870bc2ab5abc7f9f9c9d3a5d7</text><text x="472" y="652.2">Network</text><text x="472" y="656.1">AuvControl::SimpleMove_372.success</text><text x="472" y="660">Main::FindPipeWithLocalization_373.failed</text></g>
<g id="c1-d" class="nd"><ellipse cx="360" cy="682" rx="54" ry="5.5"/><text x="360" y="681.2">data/low-network-model.xml.0.0.0.0.0.0.0.1.gprof</text><text x="360" y="685.1">C:1</text></g>
<g id="c0-d" class="nd"><ellipse cx="617" cy="682" rx="52" ry="5.5"/><text x="617" y="681.2">data/low-network-model.xml.0.0.0.0.0.0.0.0.gprof</text><text x="617" y="685.1">C:0</text></g>
<g id="i1-j" class="nd"><ellipse cx="221" cy="706" rx="46" ry="5.5"/><text x="221" y="705.2">data/instance-solution-model.xml.0.0.0.0.1.2.gprof</text><text x="221" y="709.1">I:1</text></g>
<g id="i1-k" class="nd"><ellipse cx="329" cy="706" rx="57" ry="5.5"/><text x="329" y="705.2">data/instance-solution-model.xml.0.0.0.0.0.0.0.1.0.gprof</text><text x="329" y="709.1">I:1</text></g>
<g id="i1-l" class="nd"><ellipse cx="449" cy="706" rx="57" ry="5.5"/><text x="449" y="705.2">data/instance-solution-model.xml.0.0.0.0.0.0.0.1.1.gprof</text><text x="449" y="709.1">I:1</text></g>
<g id="i0-d" class="nd"><ellipse cx="561" cy="706" rx="49" ry="5.5"/><text x="561" y="705.2">data/instance-solution-model.xml.0.0.0.0.0.2.gprof</text><text x="561" y="709.1">I:0</text></g>
<g id="i0-e" class="nd"><ellipse cx="685" cy="706" rx="52" ry="5.5"/><text x="685" y="705.2">data/instance-solution-model.xml.0.0.0.0.0.0.0.gprof</text><text x="685" y="709.1">I:0</text></g>
<g id="i0-f" class="nd"><ellipse cx="800" cy="706" rx="55" ry="5.5"/><text x="800" y="705.2">data/instance-solution-model.xml.0.0.0.0.0.0.0.0.1.gprof</text><text x="800" y="709.1">I:0</text></g>
<g id="n-4" class="nd"><ellipse cx="510" cy="742" rx="47" ry="15"/><text x="510" y="735.3">data/f1f5c3f0c1757b47a9f38f262f1f15e</text><text x="510" y="739.2">Network</text><text x="510" y="743.1">AuvControl::SimpleMove_372.success</text><text x="510" y="747">Main::FindPipeWithLocalization_373.failed</text><text x="510" y="750.9">AuvControl::SimplePosMove_373.success</text></g>
<g id="c0-e" class="nd"><ellipse cx="444" cy="771" rx="60" ry="5.5"/><text x="444" y="770.2">data/low-network-model.xml.0.0.0.0.0.0.0.0.0.0.gprof</text><text x="444" y="774.1">C:0</text></g>
<g id="c1-e" class="nd"><ellipse cx="569" cy="771" rx="60" ry="5.5"/><text x="569" y="770.2">data/low-network-model.xml.0.0.0.0.0.0.0.0.0.1.gprof</text><text x="569" y="774.1">C:1</text></g>
<g id="i0-g" class="nd"><ellipse cx="438" cy="794" rx="65" ry="5.5"/><text x="438" y="793.2">data/instance-solution-model.xml.0.0.0.0.0.0.0.0.0.0.0.gprof</text><text x="438" y="797.1">I:0</text></g>
<g id="i1-m" class="nd"><ellipse cx="573" cy="794" rx="65" ry="5.5"/><text x="573" y="793.2">data/instance-solution-model.xml.0.0.0.0.0.0.0.0.0.1.0.gprof</text><text x="573" y="797.1">I:1</text></g>
<g id="n-5" class="nd"><ellipse cx="522" cy="834" rx="47" ry="17"/><text x="522" y="825.4">data/1b3f137d9f23f9c4f2f70b7b3dfa1d</text><text x="522" y="829.3">Network</text><text x="522" y="833.2">AuvControl::SimpleMove_372.success</text><text x="522" y="837.1">Main::FindPipeWithLocalization_373.failed</text><text x="522" y="841">AuvControl::SimplePosMove_373.success</text><text x="522" y="844.9">Wall::Follower_380.success</text></g>
<g id="c0-f" class="nd"><ellipse cx="451" cy="866" rx="67" ry="5.5"/><text x="451" y="865.2">data/low-network-model.xml.0.0.0.0.0.0.0.0.0.0.0.0.0.gprof</text><text x="451" y="869.1">C:0</text></g>
<g id="c1-f" class="nd"><ellipse cx="591" cy="866" rx="67" ry="5.5"/><text x="591" y="865.2">data/low-network-model.xml.0.0.0.0.0.0.0.0.0.0.0.0.1.gprof</text><text x="591" y="869.1">C:1</text></g>
<g id="i0-h" class="nd"><ellipse cx="447" cy="888" rx="72" ry="5.5"/><text x="447" y="887.2">data/instance-solution-model.xml.0.0.0.0.0.0.0.0.0.0.0.0.0.0.0.gprof</text><text x="447" y="891.1">I:0</text></g>
<g id="i1-n" class="nd"><ellipse cx="597" cy="888" rx="72" ry="5.5"/><text x="597" y="887.2">data/instance-solution-model.xml.0.0.0.0.0.0.0.0.0.0.0.0.0.1.0.gprof</text><text x="597" y="891.1">I:1</text></g>
<g id="n-6" class="nd"><ellipse cx="534" cy="931" rx="46" ry="18"/><text x="534" y="920.4">data/a07716d5a7baa9776f0f890f1886</text><text x="534" y="924.3">Network</text><text x="534" y="928.2">AuvControl::SimpleMove_372.success</text><text x="534" y="932.1">Main::FindPipeWithLocalization_373.failed</text><text x="534" y="936">AuvControl::SimplePosMove_373.success</text><text x="534" y="939.9">Wall::Follower_380.success</text><text x="534" y="943.8">Wall::Follower_377.success</text></g>
<g id="c0-g" class="nd"><ellipse cx="356" cy="964" rx="75" ry="5.5"/><text x="356" y="963.2">data/low-network-model.xml.0.0.0.0.0.0.0.0.0.0.0.0.0.0.0.0.0.gprof</text><text x="356" y="967.1">C:0</text></g>
<g id="c1-g" class="nd"><ellipse cx="585" cy="964" rx="75" ry="5.5"/><text x="585" y="963.2">data/low-network-model.xml.0.0.0.0.0.0.0.0.0.0.0.0.0.0.0.0.1.gprof</text><text x="585" y="967.1">C:1</text></g>
<g id="i0-i" class="nd"><ellipse cx="281" cy="986" rx="80" ry="5.5"/><text x="281" y="985.2">data/instance-solution-model.xml.0.0.0.0.0.0.0.0.0.0.0.0.0.0.0.0.0.0.gprof</text><text x="281" y="989.1">I:0</text></g>
<g id="i1-o" class="nd"><ellipse cx="445" cy="986" rx="80" ry="5.5"/><text x="445" y="985.2">data/instance-solution-model.xml.0.0.0.0.0.0.0.0.0.0.0.0.0.0.0.0.1.2.gprof</text><text x="445" y="989.1">I:1</text></g>
<g id="i1-p" class="nd"><ellipse cx="609" cy="986" rx="79" ry="5.5"/><text x="609" y="985.2">data/instance-solution-model.xml.0.0.0.0.0.0.0.0.0.0.0.0.0.0.0.0.1.0.gprof</text><text x="609" y="989.1">I:1</text></g>
<g id="i1-q" class="nd"><ellipse cx="773" cy="986" rx="80" ry="5.5"/><text x="773" y="985.2">data/instance-solution-model.xml.0.0.0.0.0.0.0.0.0.0.0.0.0.0.0.0.1.1.gprof</text><text x="773" y="989.1">I:1</text></g>
<g id="n-7" class="nd"><ellipse cx="516" cy="1029" rx="46" ry="23"/><text x="516" y="1016.5">data/7707e7a5f5f2d0f9fe0f3f4d6ea2fd</text><text x="516" y="1020.4">Network</text><text x="516" y="1024.3">AuvControl::SimpleMove_372.success</text><text x="516" y="1028.2">Main::FindPipeWithLocalization_373.failed</text><text x="516" y="1032.1">AuvControl::SimplePosMove_373.success</text><text x="516" y="1036">Wall::Follower_380.success</text><text x="516" y="1039.9">Wall::Follower_377.success</text><text x="516" y="1043.8">AuvControl::SimpleMove_379.success</text></g>
<g id="c0-h" class="nd"><ellipse cx="276" cy="1068" rx="81" ry="5.5"/><text x="276" y="1067.2">data/low-network-model.xml.0.0.0.0.0.0.0.0.0.0.0.0.0.0.0.0.0.0.0.0.gprof</text><text x="276" y="1071.1">C:0</text></g>
<g id="c1-h" class="nd"><ellipse cx="529" cy="1068" rx="81" ry="5.5"/><text x="529" y="1067.2">data/low-network-model.xml.0.0.0.0.0.0.0.0.0.0.0.0.0.0.0.0.0.0.0.1.gprof</text><text x="529" y="1071.1">C:1</text></g>
<g id="i0-j" class="nd"><ellipse cx="96" cy="1093" rx="86" ry="5.5"/><text x="96" y="1092.2">data/instance-solution-model.xml.0.0.0.0.0.0.0.0.0.0.0.0.0.0.0.0.0.0.0.0.0.gprof</text><text x="96" y="1096.1">I:0</text></g>
<g id="i1-r" class="nd"><ellipse cx="380" cy="1093" rx="86" ry="5.5"/><text x="380" y="1092.2">data/instance-solution-model.xml.0.0.0.0.0.0.0.0.0.0.0.0.0.0.0.0.0.0.0.1.0.gprof</text><text x="380" y="1096.1">I:1</text></g>
<g id="i1-s" class="nd"><ellipse cx="666" cy="1093" rx="86" ry="5.5"/><text x="666" y="1092.2">data/instance-solution-model.xml.0.0.0.0.0.0.0.0.0.0.0.0.0.0.0.0.0.0.0.1.1.gprof</text><text x="666" y="1096.1">I:1</text></g>
<g id="i1-t" class="nd"><ellipse cx="918" cy="1093" rx="83" ry="5.5"/><text x="918" y="1092.2">data/instance-solution-model.xml.0.0.0.0.0.0.0.0.0.0.0.0.0.0.0.0.0.0.0.1.2.gprof</text><text x="918" y="1096.1">I:1</text></g>

<!-- highlight boxes and their letters -->
<g id="marks">
<rect class="box" x="358" y="389" width="369" height="33" stroke="#22e022"/>
<rect class="box" x="496" y="422" width="119" height="217" stroke="#e01010"/>
<rect class="box" x="424" y="637" width="97" height="33" stroke="#10e0f0"/>
<text class="big" x="362" y="383">A</text>
<text class="big" x="478" y="441" style="font-size:21px">B</text>
<text class="big" x="407" y="651" style="font-size:19px">C</text>
<text class="num" x="366" y="403">1</text>
<text class="num" x="486" y="403">2</text>
<text class="num" x="609" y="402">3</text>
</g>
</svg>
